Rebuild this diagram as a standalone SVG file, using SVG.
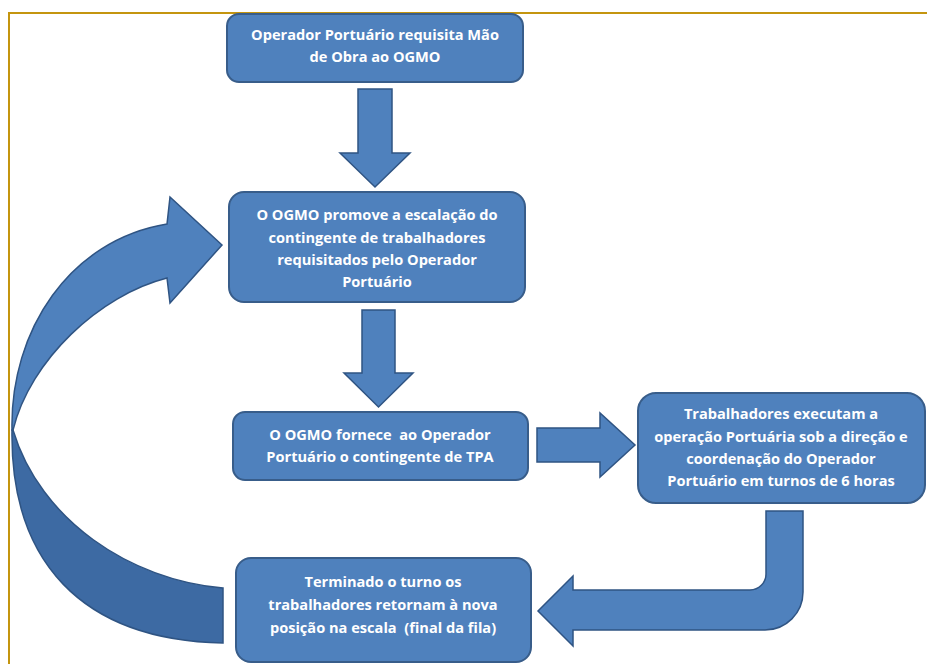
<svg xmlns="http://www.w3.org/2000/svg" width="927" height="664" viewBox="0 0 927 664">
<style>
.box{fill:#4f81bd;stroke:#385d8a;stroke-width:2}
.arr{fill:#4f81bd;stroke:#2f5483;stroke-width:1.5;stroke-linejoin:miter}
.dark{fill:#3d6aa3;stroke:#2f5483;stroke-width:1.5}
.t{font-family:"Open Sans",Lato,"Liberation Sans",sans-serif;font-weight:bold;font-size:14.6px;fill:#ffffff;text-anchor:middle;white-space:pre}
</style>
<rect width="927" height="664" fill="#ffffff"/>
<path d="M9,664 L9,13 L927,13" fill="none" stroke="#c4950f" stroke-width="2"/>
<g id="connectors">
<path class="arr" d="M358,89 L392,89 L392,153 L410,153 L375,187 L340,153 L358,153 Z"/>
<path class="arr" d="M362,310 L395,310 L395,373 L413,373 L378.5,407 L344,373 L362,373 Z"/>
<path class="arr" d="M537,428 L600,428 L600,413 L635,445 L600,477 L600,462 L537,462 Z"/>
<path class="arr" d="M766,511 L803,511 L803,592 A38,38 0 0 1 765,630 L573,630 L573,646 L538,611 L573,576 L573,590 L750,590 A16,16 0 0 0 766,574 Z"/>
<path class="dark" d="M12,430 C10,560 80,640 223,643 L223,588 C130,580 40,520 13,430 Z"/>
<path class="arr" d="M12,430 C10,330 70,240 167,224 L170,197 L222,245 L170,303 L167,278 C100,295 30,360 13,430 Z"/>
</g>
<g id="n1">
<rect class="box" x="227" y="14" width="296" height="68" rx="12"/>
<text class="t" x="375" y="40">Operador Portuário requisita Mão</text>
<text class="t" x="375" y="62">de Obra ao OGMO</text>
</g>
<g id="n2">
<rect class="box" x="229" y="192" width="296" height="110" rx="15"/>
<text class="t" x="377" y="220">O OGMO promove a escalação do</text>
<text class="t" x="377" y="243">contingente de trabalhadores</text>
<text class="t" x="377" y="265">requisitados pelo Operador</text>
<text class="t" x="377" y="287">Portuário</text>
</g>
<g id="n3">
<rect class="box" x="233" y="412" width="295" height="68" rx="12"/>
<text class="t" x="380" y="440">O OGMO fornece  ao Operador</text>
<text class="t" x="380" y="462">Portuário o contingente de TPA</text>
</g>
<g id="n4">
<rect class="box" x="638" y="393" width="287" height="110" rx="18"/>
<text class="t" x="781" y="419">Trabalhadores executam a</text>
<text class="t" x="781" y="442">operação Portuária sob a direção e</text>
<text class="t" x="781" y="464">coordenação do Operador</text>
<text class="t" x="781" y="486">Portuário em turnos de 6 horas</text>
</g>
<g id="n5">
<rect class="box" x="236" y="558" width="295" height="104" rx="15"/>
<text class="t" x="383" y="587">Terminado o turno os</text>
<text class="t" x="383" y="610">trabalhadores retornam à nova</text>
<text class="t" x="383" y="633">posição na escala  (final da fila)</text>
</g>
</svg>
